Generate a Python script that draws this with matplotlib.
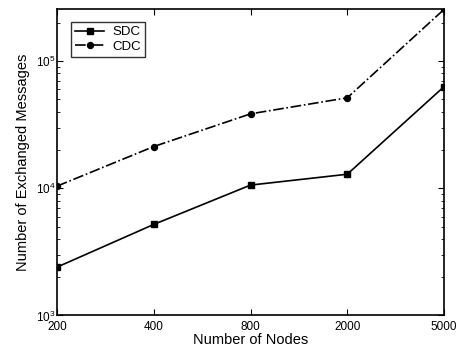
import numpy as np
import matplotlib
matplotlib.use("Agg")
from matplotlib import pyplot as plt
from matplotlib.ticker import LogLocator, NullFormatter

plt.rcParams['font.family'] = ['Liberation Sans', 'DejaVu Sans']
plt.rcParams['mathtext.fontset'] = 'custom'
plt.rcParams['mathtext.rm'] = 'Liberation Sans'
plt.rcParams['mathtext.it'] = 'Liberation Sans'

# data
nodes = ["200", "400", "800", "2000", "5000"]
sdc = [2400, 5200, 10600, 12900, 63000]
cdc = [10400, 21300, 38500, 51500, 255000]

x = np.arange(len(nodes))

fig = plt.figure(figsize=(4.58, 3.5), dpi=100)
ax = fig.add_axes([0.1245, 0.0986, 0.8450, 0.8745])

ax.plot(x, sdc, '-', color='black', marker='s', markersize=3.8, linewidth=1.2, label='SDC')
ax.plot(x, cdc, '-.', color='black', marker='o', markersize=4.3, linewidth=1.2, label='CDC')

ax.set_yscale('log')
ax.set_xlim(0, len(nodes) - 1)
ax.set_ylim(1e3, max(cdc))
ax.set_xticks(x)
ax.set_xticklabels(nodes)
ax.yaxis.set_major_locator(LogLocator(base=10))
ax.yaxis.set_minor_locator(LogLocator(base=10, subs=np.arange(2, 10)))
ax.yaxis.set_minor_formatter(NullFormatter())

ax.tick_params(which='both', direction='in', top=True, right=True, labelsize=8.5)
ax.tick_params(which='major', length=4, width=0.8)
ax.tick_params(which='minor', length=2, width=0.6)
ax.tick_params(axis='x', pad=4)
ax.tick_params(axis='y', pad=1)
for s in ax.spines.values():
    s.set_linewidth(1.2)

ax.set_xlabel('Number of Nodes', fontsize=10.5, labelpad=0)
ax.set_ylabel('Number of Exchanged Messages', fontsize=10.5, labelpad=4)

leg = ax.legend(loc='upper left', fontsize=9.5, frameon=True, fancybox=False,
                edgecolor='black', handlelength=2.2, borderpad=0.3,
                labelspacing=0.15, handletextpad=0.6,
                bbox_to_anchor=(0.02, 0.98))
leg.get_frame().set_linewidth(1.0)

fig.savefig('out.png', dpi=100)
